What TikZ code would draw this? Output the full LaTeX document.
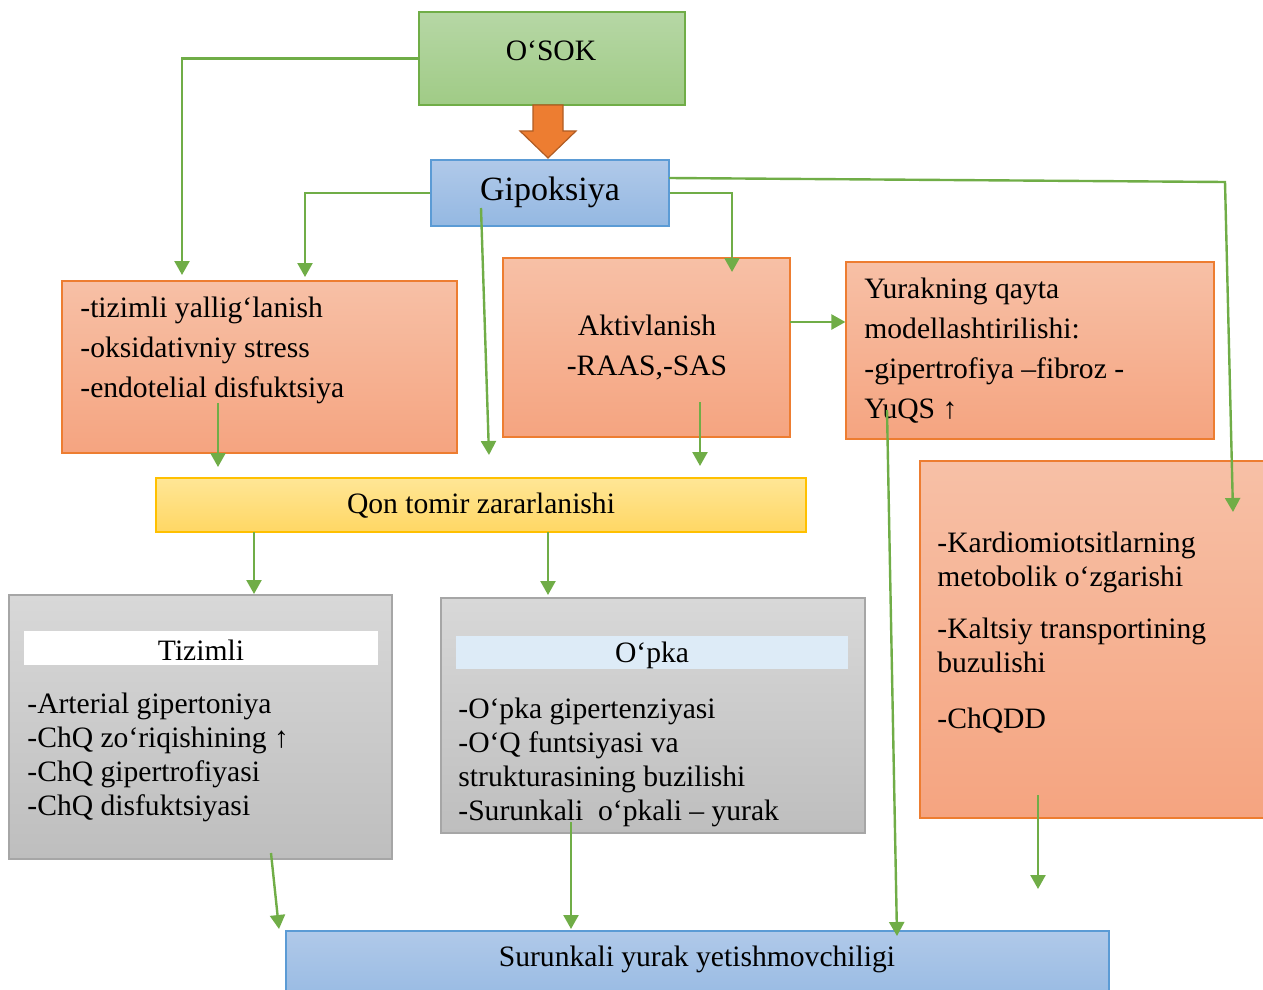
\documentclass[tikz,border=0pt]{standalone}
\usepackage{fontspec}
\setmainfont{Liberation Serif}
\usetikzlibrary{arrows.meta}

\definecolor{lnGreen}{RGB}{112,173,71}
\definecolor{grTop}{RGB}{182,215,165}
\definecolor{grBot}{RGB}{160,203,134}
\definecolor{blTop}{RGB}{176,201,233}
\definecolor{blBot}{RGB}{148,184,226}
\definecolor{blEdge}{RGB}{91,155,213}
\definecolor{orTop}{RGB}{247,192,166}
\definecolor{orBot}{RGB}{245,164,128}
\definecolor{orEdge}{RGB}{237,125,49}
\definecolor{orDark}{RGB}{176,92,35}
\definecolor{ylTop}{RGB}{255,230,150}
\definecolor{ylBot}{RGB}{255,215,100}
\definecolor{ylEdge}{RGB}{255,192,0}
\definecolor{gyTop}{RGB}{216,216,216}
\definecolor{gyBot}{RGB}{190,190,190}
\definecolor{gyEdge}{RGB}{166,166,166}
\definecolor{bandBlue}{RGB}{221,235,247}

\tikzset{
  box/.style={rectangle, inner sep=0pt, line width=0.6pt},
  greenbox/.style={box, draw=lnGreen, top color=grTop, bottom color=grBot},
  bluebox/.style={box, draw=blEdge, top color=blTop, bottom color=blBot},
  orangebox/.style={box, draw=orEdge, top color=orTop, bottom color=orBot},
  yellowbox/.style={box, draw=ylEdge, top color=ylTop, bottom color=ylBot},
  graybox/.style={box, draw=gyEdge, top color=gyTop, bottom color=gyBot},
  txt/.style={inner sep=0pt, align=left, font=\fontsize{14.8}{20}\selectfont},
  txtsm/.style={txt, font=\fontsize{14.8}{17}\selectfont},
  conn/.style={draw=lnGreen, line width=1.2pt, -{Triangle[width=7.5pt,length=7pt]}}
}

\begin{document}
\begin{tikzpicture}[x=0.5pt,y=-0.5pt]
  \useasboundingbox (0,0) rectangle (1263,990);
  \clip (0,0) rectangle (1263,990);

  % boxes
  \node[greenbox, minimum width=133pt, minimum height=46.5pt] (osok) at (552,58.5) {};
  \node[bluebox, minimum width=119pt, minimum height=33pt] (gip) at (550,193) {};
  \node[orangebox, minimum width=197.5pt, minimum height=86pt] (lbox) at (259.5,367) {};
  \node[orangebox, minimum width=143.5pt, minimum height=89.5pt] (akt) at (646.5,347.5) {};
  \node[orangebox, minimum width=184pt, minimum height=88.5pt] (yur) at (1030,350.5) {};
  \node[orangebox, minimum width=185pt, minimum height=178.5pt] (kard) at (1105,639.5) {};
  \node[yellowbox, minimum width=325pt, minimum height=27pt] (qon) at (481,505) {};
  \node[graybox, minimum width=191.5pt, minimum height=132pt] (tiz) at (200.5,727) {};
  \node[box, fill=white, minimum width=177pt, minimum height=17pt] (tizband) at (201,648) {};
  \node[graybox, minimum width=212pt, minimum height=117.5pt] (opk) at (653,715.5) {};
  \node[box, fill=bandBlue, minimum width=196pt, minimum height=16.5pt] (opkband) at (652,652.5) {};
  \node[bluebox, minimum width=411.5pt, minimum height=39.5pt] (sur) at (697.5,970.5) {};

  % big arrow
  \draw[fill=orEdge, draw=orDark, line width=0.6pt]
    (533,105) -- (563,105) -- (563,131) -- (576,131) -- (548,158)
    -- (520,131) -- (533,131) -- cycle;

  % texts
  \node[txt] (osokT) at (551,51) {O‘SOK};
  \node[txt, font=\fontsize{17}{20}\selectfont] (gipT) at (550,192) {Gipoksiya};
  \node[txt, anchor=west] (lboxT) at (80,350) {-tizimli yallig‘lanish\\-oksidativniy stress\\-endotelial disfuktsiya};
  \node[txt, align=center] (aktT) at (647,348) {Aktivlanish\\-RAAS,-SAS};
  \node[txt, anchor=west] (yurT) at (864,351) {Yurakning qayta\\modellashtirilishi:\\-gipertrofiya –fibroz -\\YuQS ↑};
  \node[txtsm, anchor=west] (kardT) at (937,633)
    {-Kardiomiotsitlarning\\metobolik o‘zgarishi\\[9pt]-Kaltsiy transportining\\buzulishi\\[11pt]-ChQDD};
  \node[txt] (qonT) at (481,506) {Qon tomir zararlanishi};
  \node[txt] (tizT) at (201,650) {Tizimli};
  \node[txtsm, anchor=west] (tizL) at (27,757) {-Arterial gipertoniya\\-ChQ zo‘riqishining ↑\\-ChQ gipertrofiyasi\\-ChQ disfuktsiyasi};
  \node[txt] (opkT) at (652,655) {O‘pka};
  \node[txtsm, anchor=west] (opkL) at (458,762) {-O‘pka gipertenziyasi\\-O‘Q funtsiyasi va\\strukturasining buzilishi\\-Surunkali\ \ o‘pkali – yurak};
  \node[txt] (surT) at (697,959) {Surunkali yurak yetishmovchiligi};

  % connector ends
  \coordinate (a1) at (182,275);
  \coordinate (a2) at (305,277);
  \coordinate (s3) at (481,208);
  \coordinate (a3) at (489,455);
  \coordinate (a4) at (732,272);
  \coordinate (s5) at (669,178);
  \coordinate (b5) at (1225,182);
  \coordinate (a5) at (1233,512);
  \coordinate (s6) at (790,322);
  \coordinate (s7) at (218,403);
  \coordinate (a7) at (218,467);
  \coordinate (s8) at (700,402);
  \coordinate (a8) at (700,466);
  \coordinate (s9) at (887,410);
  \coordinate (a9) at (897,936);
  \coordinate (s10) at (254,532);
  \coordinate (a10) at (254,594);
  \coordinate (s11) at (548,532);
  \coordinate (a11) at (548,595);
  \coordinate (s12) at (271,853);
  \coordinate (a12) at (279,929);
  \coordinate (s13) at (571,822);
  \coordinate (a13) at (571,929);
  \coordinate (s14) at (1038,795);
  \coordinate (a14) at (1038,889);

  % connectors
  \draw[conn] (osok.west) -| (a1);
  \draw[conn] (gip.west) -| (a2);
  \draw[conn] (s3) -- (a3);
  \draw[conn] (gip.east) -| (a4);
  \draw[conn] (s5) -- (b5) -- (a5);
  \draw[conn] (s6) -- (yur.west |- s6);
  \draw[conn] (s7) -- (a7);
  \draw[conn] (s8) -- (a8);
  \draw[conn] (s9) -- (a9);
  \draw[conn] (s10) -- (a10);
  \draw[conn] (s11) -- (a11);
  \draw[conn] (s12) -- (a12);
  \draw[conn] (s13) -- (a13);
  \draw[conn] (s14) -- (a14);
\end{tikzpicture}
\end{document}
